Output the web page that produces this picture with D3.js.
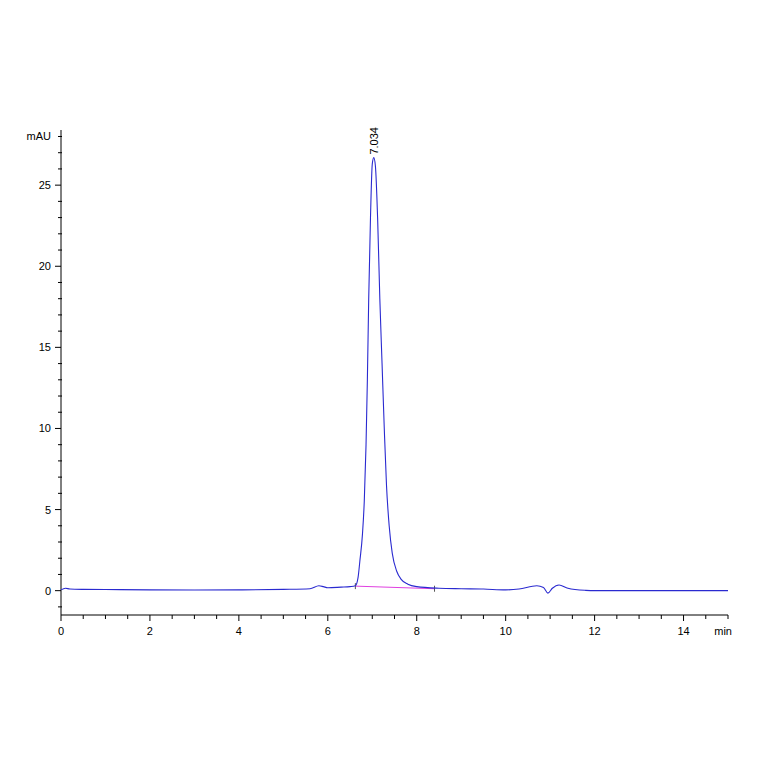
<!DOCTYPE html>
<html><head><meta charset="utf-8">
<script src="https://cdn.jsdelivr.net/npm/d3@7"></script>
<style>body{margin:0;background:#fff}text{font-family:"Liberation Sans",Arial,sans-serif}</style>
</head><body>
<svg id="c" width="764" height="764"></svg>
<script>
// chromatogram trace (min, mAU)
const times=[0,0.1,0.2,0.5,1,2,3,4,5,5.6,5.8,5.9,6.0,6.3,6.5,6.62,6.68,6.72,6.78,6.82,6.86,6.89,6.92,6.96,7.0,7.034,7.07,7.12,7.17,7.22,7.27,7.32,7.38,7.45,7.55,7.65,7.8,8.0,8.5,9,9.5,10,10.3,10.7,10.85,10.95,11.05,11.2,11.4,11.8,12,13,14,15];
const signal=[0.05,0.15,0.1,0.08,0.07,0.05,0.04,0.05,0.08,0.12,0.3,0.25,0.18,0.22,0.25,0.3,0.8,1.8,3.5,5.5,9,13,18,23,26.3,26.7,26.2,23,18,14,10,6.5,4,2.3,1.2,0.7,0.4,0.25,0.15,0.12,0.1,0.05,0.1,0.3,0.2,-0.15,0.15,0.35,0.15,0.02,0,0,0,0];
const baseT=[6.62,8.4], baseV=[0.28,0.12];
const peakT=7.034, peakV=26.7, peakLabel="7.034";

const svg=d3.select('#c');
const x=d3.scaleLinear().domain([0,15]).range([61,728]);
const y=d3.scaleLinear().domain([-1.5,28.4]).range([615,130]);

// axes
const gx=svg.append('g').attr('transform','translate(0,615)');
gx.append('line').attr('x1',61).attr('x2',728).attr('stroke','#000');
d3.range(0,15.01,0.5).forEach(t=>{
  const major=t%2===0;
  gx.append('line').attr('x1',x(t)).attr('x2',x(t)).attr('y1',0).attr('y2',major?6:4).attr('stroke','#000');
  if(major) gx.append('text').attr('x',x(t)).attr('y',20).attr('text-anchor','middle').attr('font-size',11).text(t);
});
gx.append('text').attr('x',732).attr('y',20).attr('text-anchor','end').attr('font-size',11).text('min');

const gy=svg.append('g');
gy.append('line').attr('x1',61).attr('x2',61).attr('y1',130).attr('y2',615).attr('stroke','#000');
d3.range(-1,29,1).forEach(v=>{
  const major=v%5===0;
  gy.append('line').attr('x1',major?55:58).attr('x2',major?61:62).attr('y1',y(v)).attr('y2',y(v)).attr('stroke','#000');
  if(major) gy.append('text').attr('x',51).attr('y',y(v)+4).attr('text-anchor','end').attr('font-size',11).text(v);
});
gy.append('text').attr('x',51).attr('y',140).attr('text-anchor','end').attr('font-size',11).text('mAU');

// baseline
svg.append('line').attr('x1',x(baseT[0])).attr('y1',y(baseV[0])).attr('x2',x(baseT[1])).attr('y2',y(baseV[1])).attr('stroke','#e040e0').attr('stroke-width',1);
baseT.forEach((t,i)=>svg.append('line').attr('x1',x(t)).attr('x2',x(t)).attr('y1',y(baseV[i])-3).attr('y2',y(baseV[i])+3).attr('stroke','#555'));

// trace
const line=d3.line().x((d,i)=>x(times[i])).y((d,i)=>y(signal[i])).curve(d3.curveMonotoneX);
svg.append('path').attr('d',line(signal)).attr('fill','none').attr('stroke','#2a2ad0').attr('stroke-width',1.1);

// peak label
svg.append('text').attr('transform',`translate(${x(peakT)+4},${y(peakV)-3}) rotate(-90)`).attr('font-size',11).text(peakLabel);
</script>
</body></html>
